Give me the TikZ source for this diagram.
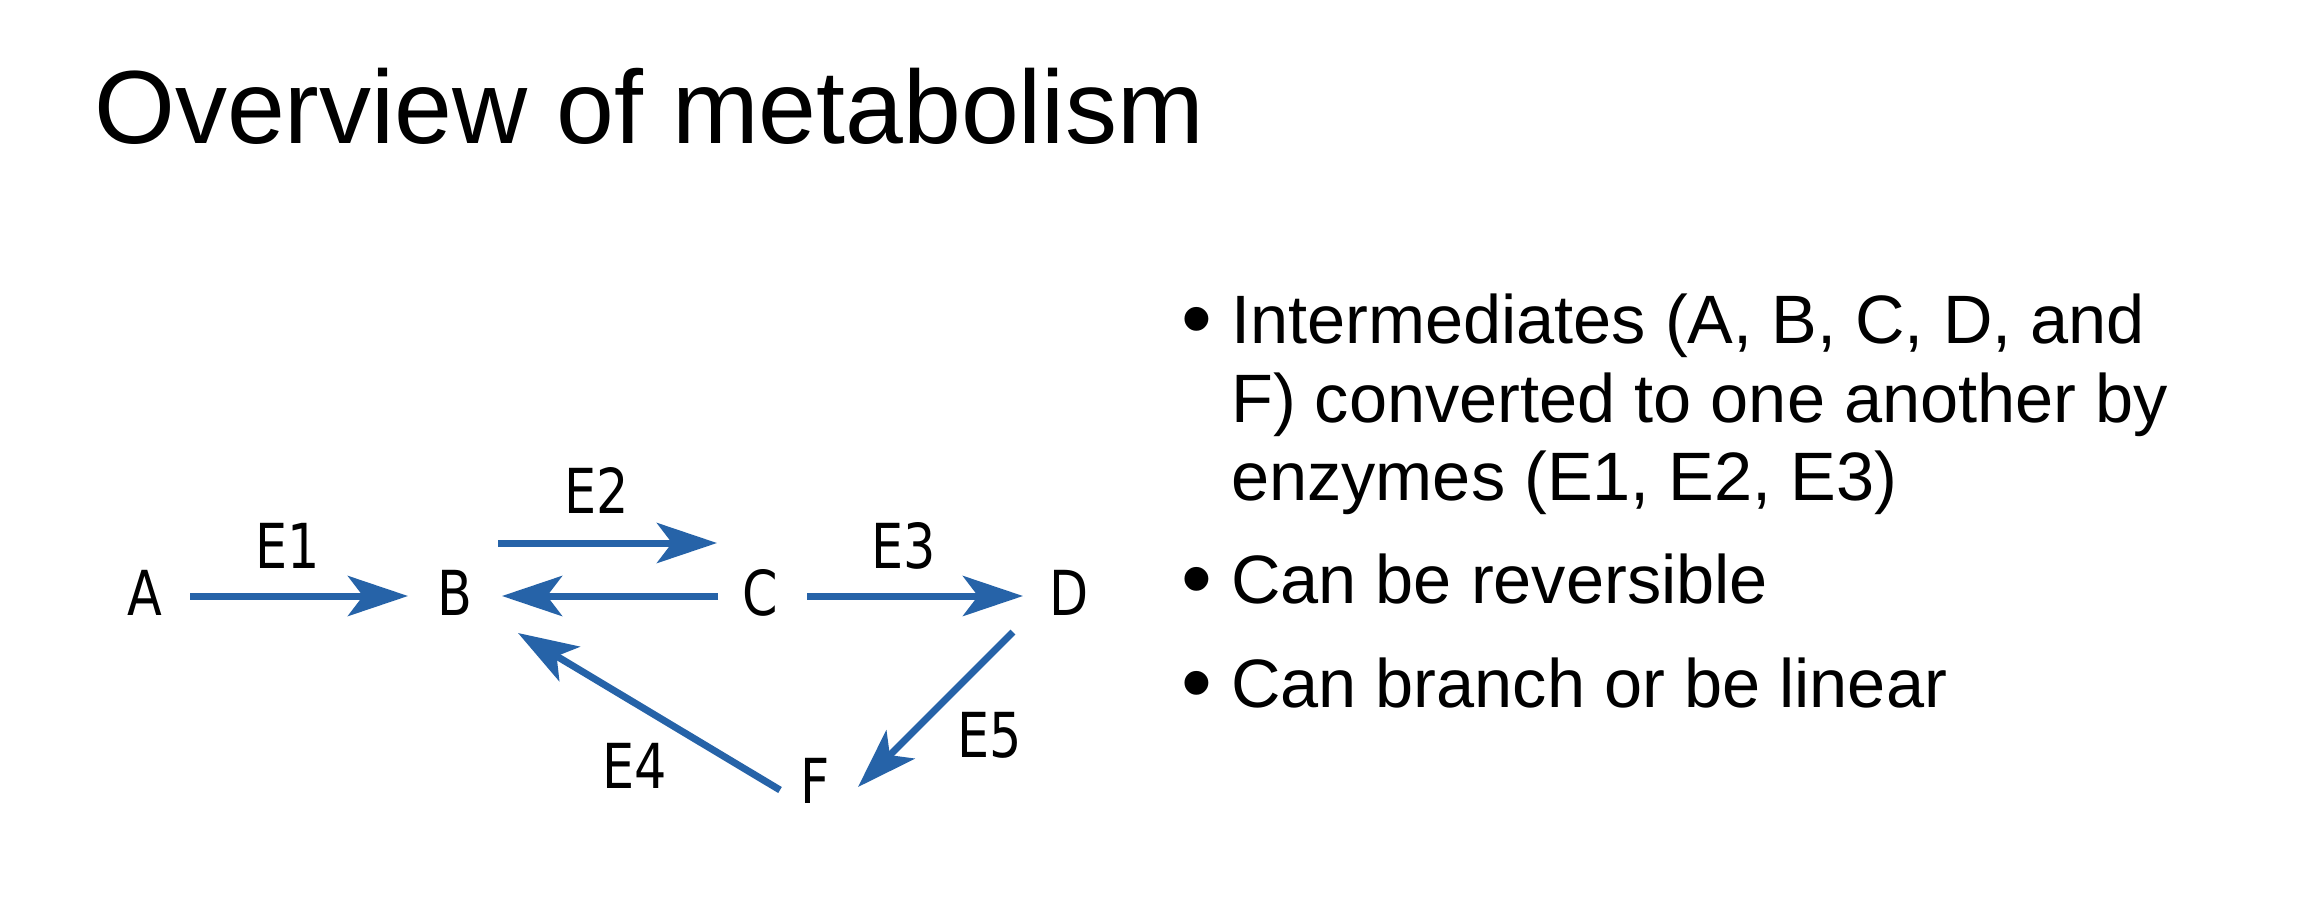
\documentclass[tikz,border=0pt]{standalone}
\usepackage{fontspec}
\setmainfont{Liberation Sans}
\newfontfamily\diagfont[FakeStretch=0.82]{DejaVu Sans}
\usetikzlibrary{arrows.meta}
\definecolor{arrowblue}{RGB}{38,99,168}
\tikzset{
  slidetitle/.style={anchor=base west, inner sep=0pt, font=\fontsize{104}{125}\selectfont},
  bodyline/.style={anchor=base west, inner sep=0pt, font=\fontsize{68.5}{79}\selectfont},
  bulletdot/.style={anchor=center, inner sep=0pt, font=\fontsize{88}{90}\selectfont},
  species/.style={anchor=base, inner sep=0pt, text height=38pt, text depth=0pt, font=\diagfont\fontsize{62}{70}\selectfont},
  enzyme/.style={anchor=base, inner sep=0pt, font=\diagfont\fontsize{62}{70}\selectfont},
  arr/.style={draw=arrowblue, line width=7pt, -{Stealth[length=60pt,width=40pt,inset=15pt]}}
}
\begin{document}
\begin{tikzpicture}[x=1pt,y=-1pt]
\fill[white] (0,0) rectangle (2322,898);
\useasboundingbox (0,0) rectangle (2322,898);

% title
\node[slidetitle] (title) at (94,143) {Overview of metabolism};

% bullets
\node[bulletdot] (dot1) at (1197,328) {•};
\node[bodyline] (l1a) at (1231,343) {Intermediates (A, B, C, D, and};
\node[bodyline] (l1b) at (1231,422) {F) converted to one another by};
\node[bodyline] (l1c) at (1231,500) {enzymes (E1, E2, E3)};
\node[bulletdot] (dot2) at (1197,588) {•};
\node[bodyline] (l2) at (1231,603) {Can be reversible};
\node[bulletdot] (dot3) at (1197,692) {•};
\node[bodyline] (l3) at (1231,707) {Can branch or be linear};

% species
\node[species] (A) at (145,615) {A};
\node[species] (B) at (455,615) {B};
\node[species] (C) at (760,615) {C};
\node[species] (D) at (1069,615) {D};
\node[species] (F) at (815,803) {F};

% enzymes
\node[enzyme] (E1) at (288,568) {E1};
\node[enzyme] (E2) at (597,513) {E2};
\node[enzyme] (E3) at (904,568) {E3};
\node[enzyme] (E4) at (635,788) {E4};
\node[enzyme] (E5) at (990,757) {E5};

% arrows
\draw[arr] ([xshift=45pt]A.center) -- ([xshift=-47pt]B.center);
\draw[arr] ([xshift=43pt,yshift=53pt]B.center) -- ([xshift=-43pt,yshift=53pt]C.center);
\draw[arr] ([xshift=-42pt]C.center) -- ([xshift=47pt]B.center);
\draw[arr] ([xshift=47pt]C.center) -- ([xshift=-46pt]D.center);
\draw[arr] ([xshift=-56pt,yshift=-36pt]D.center) -- ([xshift=43pt,yshift=-3pt]F.center);
\draw[arr] ([xshift=-35pt,yshift=-6pt]F.center) -- ([xshift=63pt,yshift=-37pt]B.center);
\end{tikzpicture}
\end{document}
